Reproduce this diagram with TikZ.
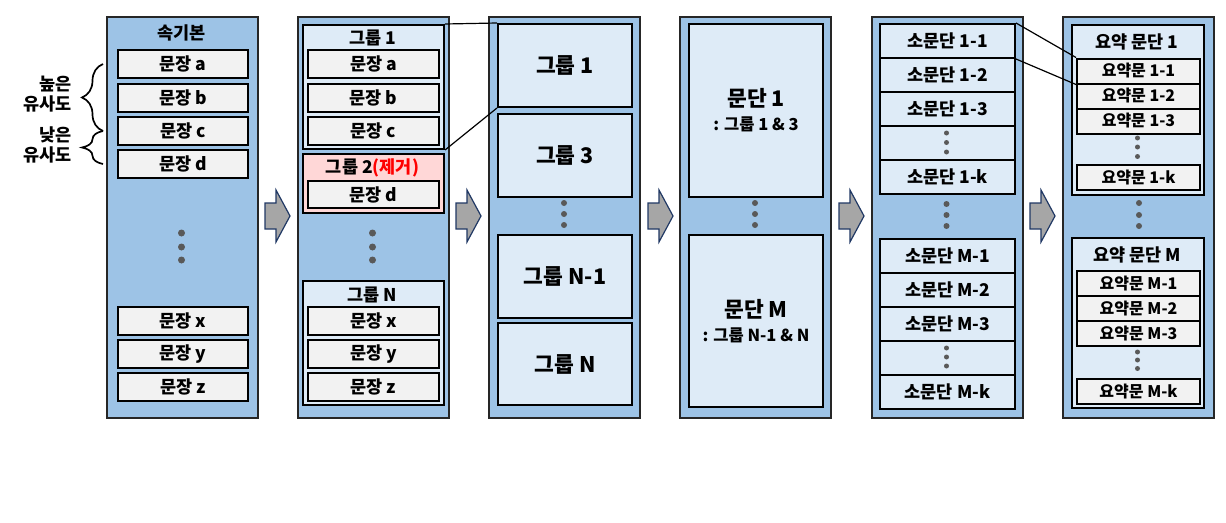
\documentclass[tikz,border=0pt]{standalone}
\usepackage{fontspec}
\setmainfont{Noto Sans CJK KR}
\usetikzlibrary{calc,decorations.pathreplacing}

\definecolor{colblue}{RGB}{157,195,230}
\definecolor{grpblue}{RGB}{222,235,247}
\definecolor{sentgray}{RGB}{242,242,242}
\definecolor{delpink}{RGB}{255,215,215}
\definecolor{dotgray}{RGB}{89,89,89}
\definecolor{arrowgray}{RGB}{166,166,166}
\definecolor{arrownavy}{RGB}{32,56,100}

\begin{document}
\begin{tikzpicture}[x=1pt,y=1pt,yscale=-1,xscale=1,
    colbox/.style={draw=black!85,line width=2pt,fill=colblue,anchor=north west,inner sep=0pt,minimum width=151,minimum height=401},
    grpbox/.style={draw=black,line width=2pt,fill=grpblue,anchor=north west,inner sep=0pt},
    sentbox/.style={draw=black,line width=2pt,fill=sentgray,anchor=north west,inner sep=0pt,font=\bfseries\fontsize{17.5}{20}\selectfont},
    sumbox/.style={sentbox,font=\bfseries\fontsize{16}{19}\selectfont},
    ttl/.style={inner sep=0pt,font=\bfseries\fontsize{17.5}{20}\selectfont},
    bigttl/.style={font=\bfseries\fontsize{21.5}{25}\selectfont},
    parabox/.style={grpbox,align=center,font=\bfseries\fontsize{16.5}{24}\selectfont},
    dotc/.style={fill=dotgray},
    link/.style={line width=1.2pt},
    simbrace/.style={line width=1.7pt,decorate,decoration={brace,amplitude=21pt}},
    blockarrow/.style={fill=arrowgray,draw=arrownavy,line width=1.2pt,line join=miter}]
    \useasboundingbox (0,0) rectangle (1226,522);

    %Shape: Column 1 [src]
    \node[colbox] (src) at (106,16) {};
    % Text Node
    \node[ttl] (srcttl) at (181.5,33) {속기본};
    \node[sentbox,minimum width=130,minimum height=28] (sa) at (117,49) {문장 a};
    \node[sentbox,minimum width=130,minimum height=28] (sb) at (117,83) {문장 b};
    \node[sentbox,minimum width=130,minimum height=28] (sc) at (117,116) {문장 c};
    \node[sentbox,minimum width=130,minimum height=28] (sd) at (117,149) {문장 d};
    \node[sentbox,minimum width=130,minimum height=28] (sx) at (117,306) {문장 x};
    \node[sentbox,minimum width=130,minimum height=28] (sy) at (117,339) {문장 y};
    \node[sentbox,minimum width=130,minimum height=28] (sz) at (117,372) {문장 z};
    \fill[dotc] (181.5,233) circle (3.5) (181.5,247) circle (3.5) (181.5,260) circle (3.5);

    %Braces
    \draw[simbrace] ($(sc.west)+(-14,0)$) -- ($(sa.west)+(-14,0)$);
    \draw[simbrace] ($(sd.west)+(-14,0)$) -- ($(sc.west)+(-14,0)$);
    % Text Node
    \node[ttl,align=right,anchor=east] (hisim) at (72,94) {높은\\유사도};
    \node[ttl,align=right,anchor=east] (losim) at (72,145) {낮은\\유사도};

    %Shape: Column 2 [grp]
    \node[colbox] (grp) at (297,16) {};
    \node[grpbox,minimum width=141,minimum height=124] (g1) at (302,24) {};
    \node[ttl] (g1ttl) at (372.5,38) {그룹 1};
    \node[sentbox,minimum width=131,minimum height=28] (g1a) at (307,49) {문장 a};
    \node[sentbox,minimum width=131,minimum height=28] (g1b) at (307,83) {문장 b};
    \node[sentbox,minimum width=131,minimum height=28] (g1c) at (307,116) {문장 c};
    \node[grpbox,fill=delpink,minimum width=141,minimum height=59] (g2) at (302,153) {};
    \node[ttl] (g2ttl) at (372.5,168) {그룹 2{\color{red}(제거)}};
    \node[sentbox,minimum width=131,minimum height=27] (g2d) at (307,180) {문장 d};
    \fill[dotc] (372.5,233) circle (3.5) (372.5,247) circle (3.5) (372.5,260) circle (3.5);
    \node[grpbox,minimum width=141,minimum height=124] (gN) at (302,280) {};
    \node[ttl] (gNttl) at (372.5,295) {그룹 N};
    \node[sentbox,minimum width=131,minimum height=28] (gNx) at (307,306) {문장 x};
    \node[sentbox,minimum width=131,minimum height=28] (gNy) at (307,339) {문장 y};
    \node[sentbox,minimum width=131,minimum height=28] (gNz) at (307,372) {문장 z};

    %Shape: Column 3 [kept]
    \node[colbox] (kept) at (488,16) {};
    \node[grpbox,bigttl,minimum width=134,minimum height=83] (k1) at (497,23) {그룹 1};
    \node[grpbox,bigttl,minimum width=134,minimum height=83] (k3) at (497,113) {그룹 3};
    \fill[dotc] (564,203) circle (3) (564,214) circle (3) (564,225) circle (3);
    \node[grpbox,bigttl,minimum width=134,minimum height=83] (kN1) at (497,234) {그룹 N-1};
    \node[grpbox,bigttl,minimum width=134,minimum height=82] (kN) at (497,322) {그룹 N};

    %Shape: Column 4 [para]
    \node[colbox] (para) at (679,16) {};
    \node[parabox,minimum width=134,minimum height=173] (p1) at (688,23)
        {{\fontsize{21.5}{25}\selectfont 문단 1}\\: 그룹 1 \& 3};
    \fill[dotc] (755,203) circle (3) (755,214) circle (3) (755,225) circle (3);
    \node[parabox,minimum width=134,minimum height=172] (pM) at (688,234)
        {{\fontsize{21.5}{25}\selectfont 문단 M}\\: 그룹 N-1 \& N};

    %Shape: Column 5 [sub]
    \node[colbox] (sub) at (871,16) {};
    \node[grpbox,ttl,minimum width=135,minimum height=34] (q11) at (879,23) {소문단 1-1};
    \node[grpbox,ttl,minimum width=135,minimum height=34] (q12) at (879,57) {소문단 1-2};
    \node[grpbox,ttl,minimum width=135,minimum height=34] (q13) at (879,91) {소문단 1-3};
    \node[grpbox,ttl,minimum width=135,minimum height=34] (q1d) at (879,125) {};
    \node[grpbox,ttl,minimum width=135,minimum height=34] (q1k) at (879,159) {소문단 1-k};
    \fill[dotc] (946.5,133) circle (2.5) (946.5,142.5) circle (2.5) (946.5,152) circle (2.5);
    \fill[dotc] (946.5,204) circle (3) (946.5,215) circle (3) (946.5,226) circle (3);
    \node[grpbox,ttl,minimum width=135,minimum height=34] (qM1) at (879,238) {소문단 M-1};
    \node[grpbox,ttl,minimum width=135,minimum height=34] (qM2) at (879,272) {소문단 M-2};
    \node[grpbox,ttl,minimum width=135,minimum height=34] (qM3) at (879,306) {소문단 M-3};
    \node[grpbox,ttl,minimum width=135,minimum height=34] (qMd) at (879,340) {};
    \node[grpbox,ttl,minimum width=135,minimum height=34] (qMk) at (879,374) {소문단 M-k};
    \fill[dotc] (946.5,348) circle (2.5) (946.5,357) circle (2.5) (946.5,366) circle (2.5);

    %Shape: Column 6 [summ]
    \node[colbox] (summ) at (1062,16) {};
    \node[grpbox,minimum width=132,minimum height=170] (y1) at (1071,24) {};
    \node[ttl] (y1ttl) at (1137,42) {요약 문단 1};
    \node[sumbox,minimum width=123,minimum height=25] (y11) at (1076,57.5) {요약문 1-1};
    \node[sumbox,minimum width=123,minimum height=25] (y12) at (1076,82.5) {요약문 1-2};
    \node[sumbox,minimum width=123,minimum height=25] (y13) at (1076,107.5) {요약문 1-3};
    \fill[dotc] (1137.5,138) circle (2.5) (1137.5,147) circle (2.5) (1137.5,156.5) circle (2.5);
    \node[sumbox,minimum width=123,minimum height=25.5] (y1k) at (1076,163.5) {요약문 1-k};
    \fill[dotc] (1139,203) circle (3) (1139,215) circle (3) (1139,226) circle (3);
    \node[grpbox,minimum width=132,minimum height=170] (yM) at (1071,237) {};
    \node[ttl] (yMttl) at (1137,255) {요약 문단 M};
    \node[sumbox,minimum width=123,minimum height=25] (yM1) at (1076,270) {요약문 M-1};
    \node[sumbox,minimum width=123,minimum height=25] (yM2) at (1076,295) {요약문 M-2};
    \node[sumbox,minimum width=123,minimum height=25] (yM3) at (1076,320) {요약문 M-3};
    \fill[dotc] (1137.5,352) circle (2.5) (1137.5,360) circle (2.5) (1137.5,368.5) circle (2.5);
    \node[sumbox,minimum width=123,minimum height=25] (yMk) at (1076,378) {요약문 M-k};

    %Straight Lines
    \draw[link] (g1.north east) -- (k1.north west);
    \draw[link] (g1.south east) -- (k1.south west);
    \draw[link] (q11.north east) -- (y11.north west);
    \draw[link] (q11.south east) -- (y11.south west);

    %Shape: Right Arrow
    \draw[blockarrow] (265,203) -- ++(11,0) -- ++(0,-13) -- ++(14,26) -- ++(-14,26) -- ++(0,-13) -- ++(-11,0) -- cycle;
    \draw[blockarrow] (456,203) -- ++(11,0) -- ++(0,-13) -- ++(14,26) -- ++(-14,26) -- ++(0,-13) -- ++(-11,0) -- cycle;
    \draw[blockarrow] (648,203) -- ++(11,0) -- ++(0,-13) -- ++(14,26) -- ++(-14,26) -- ++(0,-13) -- ++(-11,0) -- cycle;
    \draw[blockarrow] (839,203) -- ++(11,0) -- ++(0,-13) -- ++(14,26) -- ++(-14,26) -- ++(0,-13) -- ++(-11,0) -- cycle;
    \draw[blockarrow] (1030,203) -- ++(11,0) -- ++(0,-13) -- ++(14,26) -- ++(-14,26) -- ++(0,-13) -- ++(-11,0) -- cycle;
\end{tikzpicture}
\end{document}
